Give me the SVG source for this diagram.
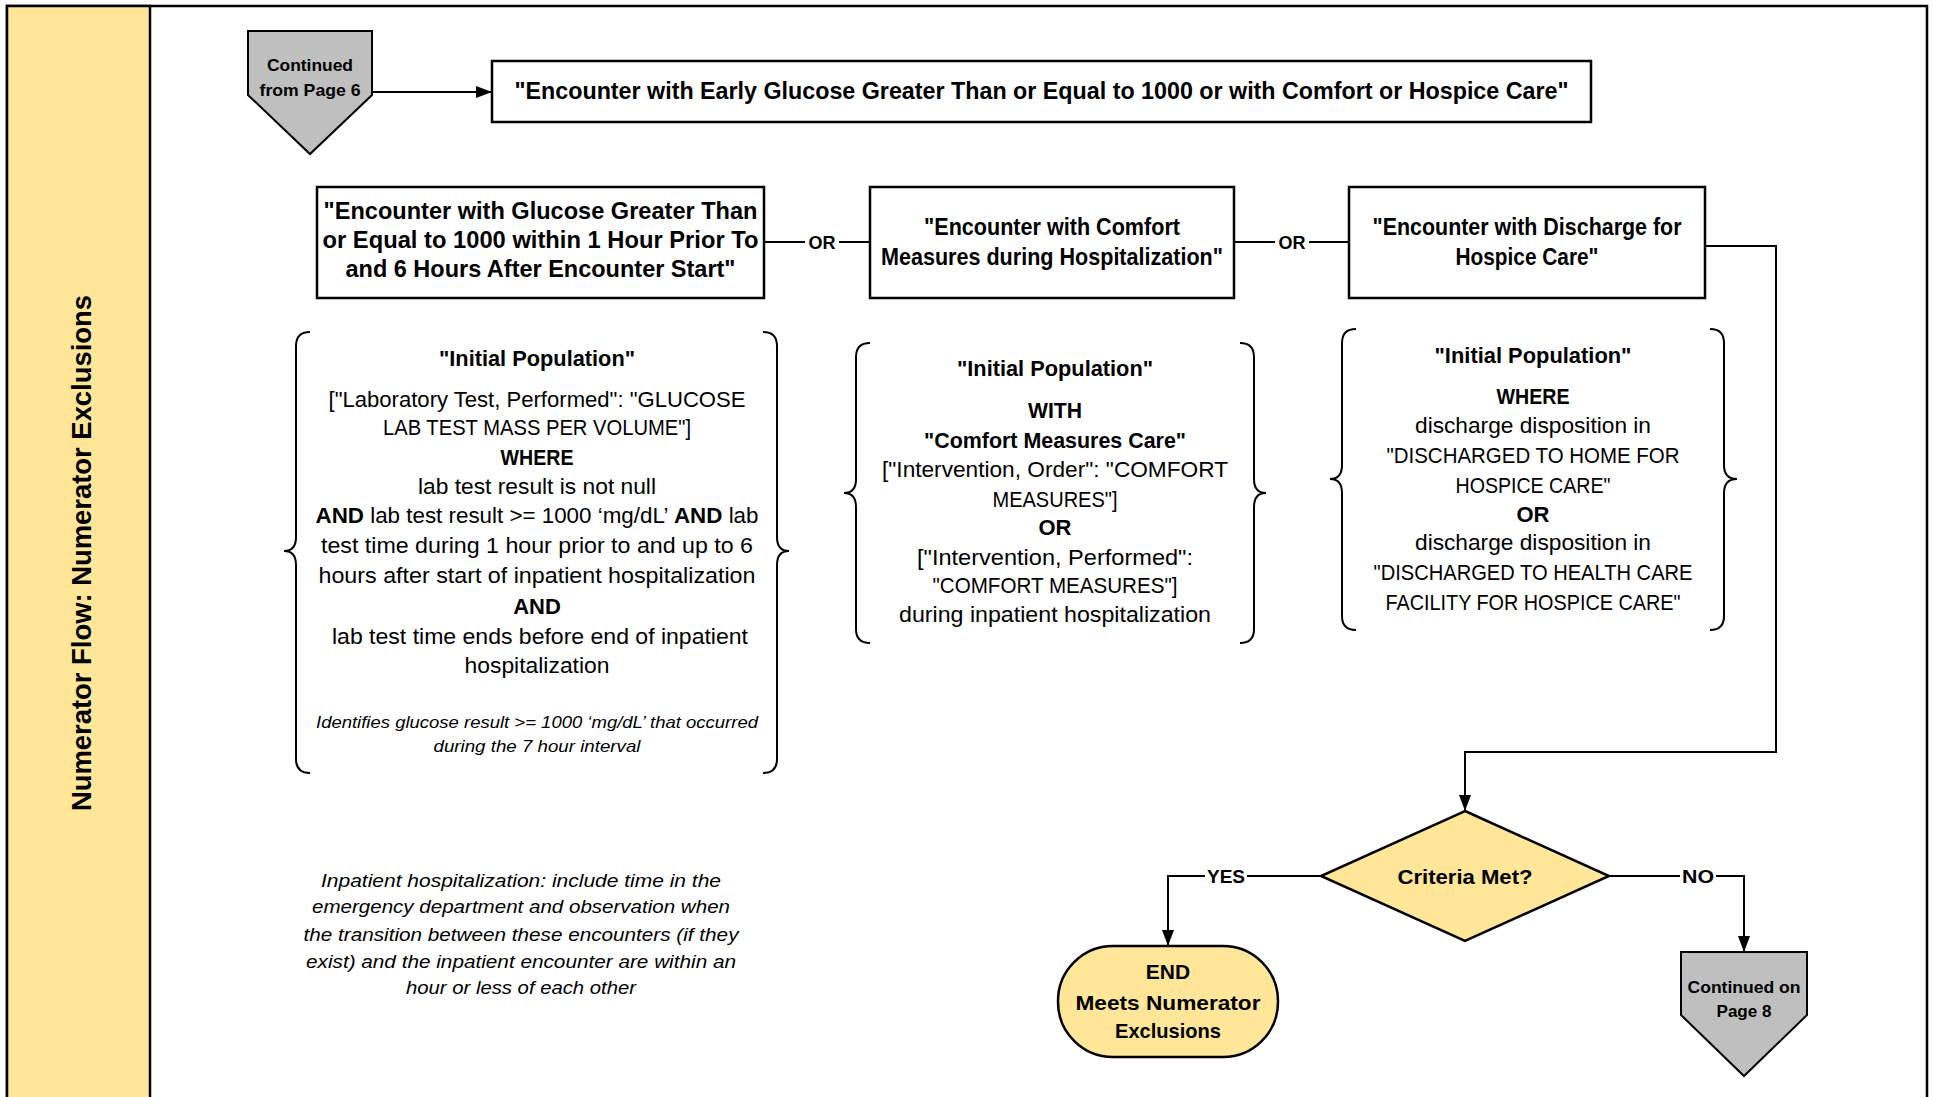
<svg xmlns="http://www.w3.org/2000/svg" width="1933" height="1097" viewBox="0 0 1933 1097">
<defs>
<style>
.t{font-family:"Liberation Sans",Arial,sans-serif;fill:#000}
.b{font-weight:bold}
.i{font-style:italic}
.box{fill:#fff;stroke:#000;stroke-width:2.5}
.yel{fill:#FFE699;stroke:#000;stroke-width:2.5}
.gray{fill:#BFBFBF;stroke:#000;stroke-width:2}
.brace{fill:none;stroke:#000;stroke-width:2}
.conn{fill:none;stroke:#000;stroke-width:2}
.lbl{fill:#fff;stroke:none}
</style>
<marker id="arr" markerUnits="userSpaceOnUse" markerWidth="16" markerHeight="12" refX="16" refY="6" orient="auto">
<path d="M0,0 L16,6 L0,12 z" fill="#000"/>
</marker>
</defs>
<rect x="0" y="0" width="1933" height="1097" fill="#fff"/>
<g id="frame">
<path d="M7,1097 V6 H1927 V1097" fill="none" stroke="#000" stroke-width="2.5"/>
<rect x="7" y="6" width="143" height="1095" class="yel"/>
<text class="t b" font-size="27" text-anchor="middle" textLength="516" lengthAdjust="spacingAndGlyphs" transform="translate(91,553) rotate(-90)">Numerator Flow: Numerator Exclusions</text>
</g>
<g id="connectors">
<path class="conn" d="M372,92 H492" marker-end="url(#arr)"/>
<path class="conn" d="M764,242 H870"/>
<path class="conn" d="M1234,242 H1349"/>
<path class="conn" d="M1705,246 H1776 V752 H1465 V811" marker-end="url(#arr)"/>
<path class="conn" d="M1321,876 H1168 V946" marker-end="url(#arr)"/>
<path class="conn" d="M1609,876 H1744 V952" marker-end="url(#arr)"/>
<rect class="lbl" x="805" y="230" width="34" height="24"/>
<text class="t b" x="822" y="249" font-size="18" text-anchor="middle">OR</text>
<rect class="lbl" x="1275" y="230" width="34" height="24"/>
<text class="t b" x="1292" y="249" font-size="18" text-anchor="middle">OR</text>
<rect class="lbl" x="1205" y="864" width="42" height="24"/>
<text class="t b" x="1226" y="883" font-size="18" text-anchor="middle" textLength="38" lengthAdjust="spacingAndGlyphs">YES</text>
<rect class="lbl" x="1680" y="864" width="36" height="24"/>
<text class="t b" x="1698" y="883" font-size="18" text-anchor="middle" textLength="32" lengthAdjust="spacingAndGlyphs">NO</text>
</g>
<g id="start">
<path class="gray" d="M248,31 H372 V95 L310,154 L248,95 Z"/>
<text class="t b" x="310" y="71" font-size="17" text-anchor="middle" textLength="86" lengthAdjust="spacingAndGlyphs">Continued</text>
<text class="t b" x="310" y="96" font-size="17" text-anchor="middle" textLength="101" lengthAdjust="spacingAndGlyphs">from Page 6</text>
</g>
<g id="topbox">
<rect class="box" x="492" y="61" width="1099" height="61"/>
<text class="t b" x="1041.5" y="99" font-size="24" text-anchor="middle" textLength="1054" lengthAdjust="spacingAndGlyphs">"Encounter with Early Glucose Greater Than or Equal to 1000 or with Comfort or Hospice Care"</text>
</g>
<g id="boxA">
<rect class="box" x="317" y="187" width="447" height="111"/>
<text class="t b" x="540.5" y="219" font-size="24" text-anchor="middle" textLength="434" lengthAdjust="spacingAndGlyphs">"Encounter with Glucose Greater Than</text>
<text class="t b" x="540.5" y="248" font-size="24" text-anchor="middle" textLength="436" lengthAdjust="spacingAndGlyphs">or Equal to 1000 within 1 Hour Prior To</text>
<text class="t b" x="540.5" y="277" font-size="24" text-anchor="middle" textLength="390" lengthAdjust="spacingAndGlyphs">and 6 Hours After Encounter Start"</text>
</g>
<g id="boxB">
<rect class="box" x="870" y="187" width="364" height="111"/>
<text class="t b" x="1052" y="235" font-size="24" text-anchor="middle" textLength="256" lengthAdjust="spacingAndGlyphs">"Encounter with Comfort</text>
<text class="t b" x="1052" y="265" font-size="24" text-anchor="middle" textLength="342" lengthAdjust="spacingAndGlyphs">Measures during Hospitalization"</text>
</g>
<g id="boxC">
<rect class="box" x="1349" y="187" width="356" height="111"/>
<text class="t b" x="1527" y="235" font-size="24" text-anchor="middle" textLength="309" lengthAdjust="spacingAndGlyphs">"Encounter with Discharge for</text>
<text class="t b" x="1527" y="265" font-size="24" text-anchor="middle" textLength="143" lengthAdjust="spacingAndGlyphs">Hospice Care"</text>
</g>
<g id="defA">
<path class="brace" d="M310,332 Q296,332 296,346 L296,537 Q296,551 284,551 Q296,551 296,565 L296,759 Q296,773 310,773"/>
<path class="brace" d="M763,332 Q777,332 777,346 L777,537 Q777,551 789,551 Q777,551 777,565 L777,759 Q777,773 763,773"/>
<text class="t b" x="537" y="366" font-size="22" text-anchor="middle" textLength="196" lengthAdjust="spacingAndGlyphs">"Initial Population"</text>
<text class="t" x="537" y="407" font-size="22" text-anchor="middle" textLength="417" lengthAdjust="spacingAndGlyphs">["Laboratory Test, Performed": "GLUCOSE</text>
<text class="t" x="537" y="435" font-size="22" text-anchor="middle" textLength="308" lengthAdjust="spacingAndGlyphs">LAB TEST MASS PER VOLUME"]</text>
<text class="t b" x="537" y="465" font-size="22" text-anchor="middle" textLength="73" lengthAdjust="spacingAndGlyphs">WHERE</text>
<text class="t" x="537" y="494" font-size="22" text-anchor="middle" textLength="238" lengthAdjust="spacingAndGlyphs">lab test result is not null</text>
<text class="t" x="537" y="523" font-size="22" text-anchor="middle" textLength="443" lengthAdjust="spacingAndGlyphs"><tspan class="b">AND</tspan> lab test result &gt;= 1000 ‘mg/dL’ <tspan class="b">AND</tspan> lab</text>
<text class="t" x="537" y="553" font-size="22" text-anchor="middle" textLength="432" lengthAdjust="spacingAndGlyphs">test time during 1 hour prior to and up to 6</text>
<text class="t" x="537" y="583" font-size="22" text-anchor="middle" textLength="437" lengthAdjust="spacingAndGlyphs">hours after start of inpatient hospitalization</text>
<text class="t b" x="537" y="614" font-size="22" text-anchor="middle">AND</text>
<text class="t" x="540" y="644" font-size="22" text-anchor="middle" textLength="416" lengthAdjust="spacingAndGlyphs">lab test time ends before end of inpatient</text>
<text class="t" x="537" y="673" font-size="22" text-anchor="middle" textLength="145" lengthAdjust="spacingAndGlyphs">hospitalization</text>
<text class="t i" x="537" y="728" font-size="16.5" text-anchor="middle" textLength="442" lengthAdjust="spacingAndGlyphs">Identifies glucose result &gt;= 1000 ‘mg/dL’ that occurred</text>
<text class="t i" x="537" y="752" font-size="16.5" text-anchor="middle" textLength="207" lengthAdjust="spacingAndGlyphs">during the 7 hour interval</text>
</g>
<g id="defB">
<path class="brace" d="M870,343 Q856,343 856,357 L856,479 Q856,493 844,493 Q856,493 856,507 L856,629 Q856,643 870,643"/>
<path class="brace" d="M1240,343 Q1254,343 1254,357 L1254,479 Q1254,493 1266,493 Q1254,493 1254,507 L1254,629 Q1254,643 1240,643"/>
<text class="t b" x="1055" y="376" font-size="22" text-anchor="middle" textLength="196" lengthAdjust="spacingAndGlyphs">"Initial Population"</text>
<text class="t b" x="1055" y="418" font-size="22" text-anchor="middle" textLength="54" lengthAdjust="spacingAndGlyphs">WITH</text>
<text class="t b" x="1055" y="448" font-size="22" text-anchor="middle" textLength="262" lengthAdjust="spacingAndGlyphs">"Comfort Measures Care"</text>
<text class="t" x="1055" y="477" font-size="22" text-anchor="middle" textLength="346" lengthAdjust="spacingAndGlyphs">["Intervention, Order": "COMFORT</text>
<text class="t" x="1055" y="507" font-size="22" text-anchor="middle" textLength="125" lengthAdjust="spacingAndGlyphs">MEASURES"]</text>
<text class="t b" x="1055" y="535" font-size="22" text-anchor="middle">OR</text>
<text class="t" x="1055" y="565" font-size="22" text-anchor="middle" textLength="276" lengthAdjust="spacingAndGlyphs">["Intervention, Performed":</text>
<text class="t" x="1055" y="593" font-size="22" text-anchor="middle" textLength="245" lengthAdjust="spacingAndGlyphs">"COMFORT MEASURES"]</text>
<text class="t" x="1055" y="622" font-size="22" text-anchor="middle" textLength="312" lengthAdjust="spacingAndGlyphs">during inpatient hospitalization</text>
</g>
<g id="defC">
<path class="brace" d="M1356,329 Q1342,329 1342,343 L1342,465 Q1342,479 1330,479 Q1342,479 1342,493 L1342,616 Q1342,630 1356,630"/>
<path class="brace" d="M1710,329 Q1724,329 1724,343 L1724,465 Q1724,479 1737,479 Q1724,479 1724,493 L1724,616 Q1724,630 1710,630"/>
<text class="t b" x="1533" y="363" font-size="22" text-anchor="middle" textLength="197" lengthAdjust="spacingAndGlyphs">"Initial Population"</text>
<text class="t b" x="1533" y="404" font-size="22" text-anchor="middle" textLength="73" lengthAdjust="spacingAndGlyphs">WHERE</text>
<text class="t" x="1533" y="433" font-size="22" text-anchor="middle" textLength="236" lengthAdjust="spacingAndGlyphs">discharge disposition in</text>
<text class="t" x="1533" y="463" font-size="22" text-anchor="middle" textLength="293" lengthAdjust="spacingAndGlyphs">"DISCHARGED TO HOME FOR</text>
<text class="t" x="1533" y="493" font-size="22" text-anchor="middle" textLength="155" lengthAdjust="spacingAndGlyphs">HOSPICE CARE"</text>
<text class="t b" x="1533" y="522" font-size="22" text-anchor="middle">OR</text>
<text class="t" x="1533" y="550" font-size="22" text-anchor="middle" textLength="236" lengthAdjust="spacingAndGlyphs">discharge disposition in</text>
<text class="t" x="1533" y="580" font-size="22" text-anchor="middle" textLength="319" lengthAdjust="spacingAndGlyphs">"DISCHARGED TO HEALTH CARE</text>
<text class="t" x="1533" y="610" font-size="22" text-anchor="middle" textLength="295" lengthAdjust="spacingAndGlyphs">FACILITY FOR HOSPICE CARE"</text>
</g>
<g id="note">
<text class="t i" x="521" y="887" font-size="18.5" text-anchor="middle" textLength="400" lengthAdjust="spacingAndGlyphs">Inpatient hospitalization: include time in the</text>
<text class="t i" x="521" y="913" font-size="18.5" text-anchor="middle" textLength="418" lengthAdjust="spacingAndGlyphs">emergency department and observation when</text>
<text class="t i" x="521" y="941" font-size="18.5" text-anchor="middle" textLength="435" lengthAdjust="spacingAndGlyphs">the transition between these encounters (if they</text>
<text class="t i" x="521" y="968" font-size="18.5" text-anchor="middle" textLength="430" lengthAdjust="spacingAndGlyphs">exist) and the inpatient encounter are within an</text>
<text class="t i" x="521" y="994" font-size="18.5" text-anchor="middle" textLength="230" lengthAdjust="spacingAndGlyphs">hour or less of each other</text>
</g>
<g id="decision">
<path class="yel" stroke-width="2" d="M1465,811 L1609,876 L1465,941 L1321,876 Z"/>
<text class="t b" x="1465" y="884" font-size="21" text-anchor="middle" textLength="135" lengthAdjust="spacingAndGlyphs">Criteria Met?</text>
</g>
<g id="end">
<rect class="yel" stroke-width="2" x="1058" y="946" width="220" height="111" rx="55" ry="55"/>
<text class="t b" x="1168" y="979" font-size="21" text-anchor="middle">END</text>
<text class="t b" x="1168" y="1010" font-size="21" text-anchor="middle" textLength="185" lengthAdjust="spacingAndGlyphs">Meets Numerator</text>
<text class="t b" x="1168" y="1038" font-size="21" text-anchor="middle" textLength="106" lengthAdjust="spacingAndGlyphs">Exclusions</text>
</g>
<g id="page8">
<path class="gray" d="M1681,952 H1807 V1015 L1744,1076 L1681,1015 Z"/>
<text class="t b" x="1744" y="993" font-size="17" text-anchor="middle" textLength="113" lengthAdjust="spacingAndGlyphs">Continued on</text>
<text class="t b" x="1744" y="1017" font-size="17" text-anchor="middle" textLength="55" lengthAdjust="spacingAndGlyphs">Page 8</text>
</g>
</svg>
